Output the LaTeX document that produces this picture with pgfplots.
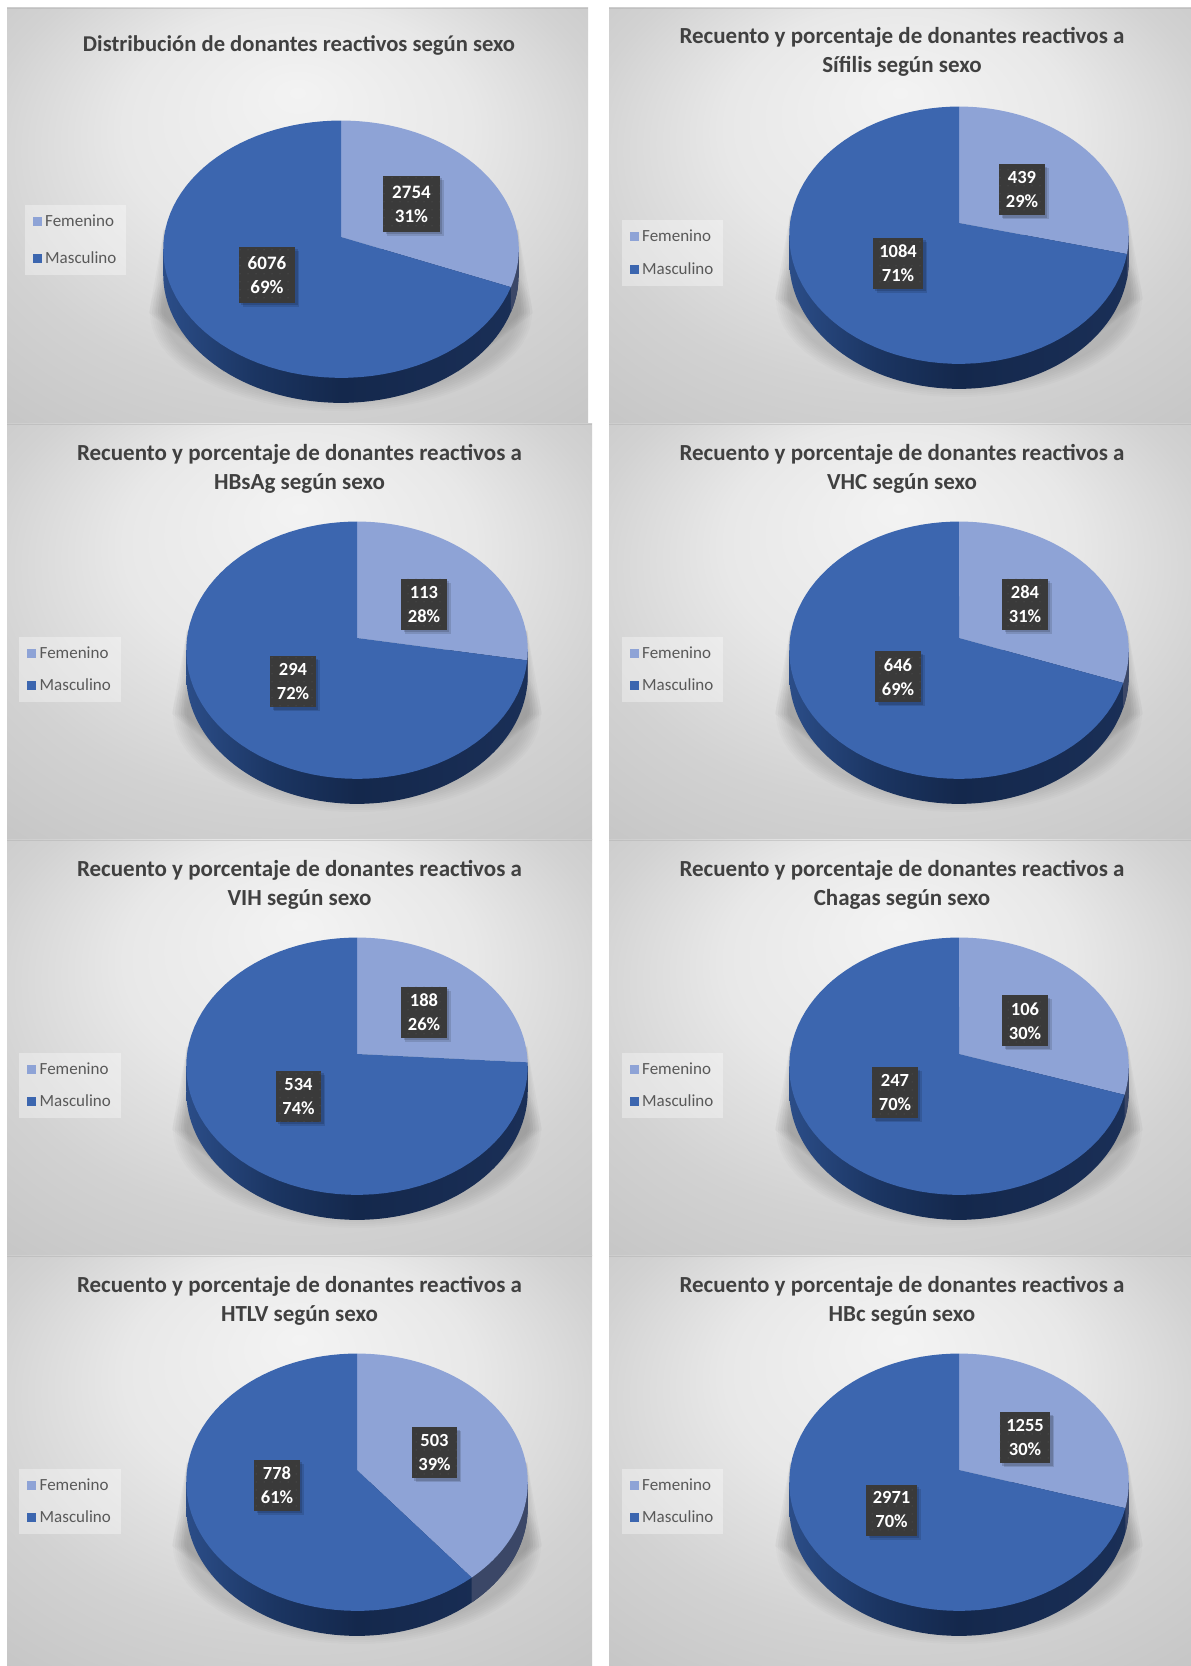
\documentclass[border=0pt]{standalone}
\usepackage{fontspec}
\setmainfont{Carlito}
\usepackage{pgfplots}
\usepackage{pgfplotstable}
\pgfplotsset{compat=1.18}
\usetikzlibrary{shadows,patterns.meta}

\definecolor{fem}{HTML}{8EA3D6}
\definecolor{masc}{HTML}{3C66AF}
\definecolor{femwall}{HTML}{3B4767}
\definecolor{titletxt}{HTML}{404040}
\definecolor{legtxt}{HTML}{595959}
\definecolor{lblbox}{HTML}{3A3A3A}
\definecolor{lbldot}{HTML}{5E5E5E}

\definecolor{wallA}{HTML}{2B4D88}
\definecolor{wallB}{HTML}{1B3562}
\definecolor{wallC}{HTML}{14284C}
\definecolor{wallD}{HTML}{1A2F57}
\pgfdeclarehorizontalshading{wallshade}{100bp}{%
  color(0bp)=(wallA); color(25bp)=(wallA); color(38bp)=(wallB);
  color(50bp)=(wallC); color(75bp)=(wallD); color(100bp)=(wallD)}

\definecolor{bgA}{HTML}{F3F3F3}
\definecolor{bgB}{HTML}{E8E8E8}
\definecolor{bgC}{HTML}{D2D2D2}
\definecolor{bgD}{HTML}{C4C4C4}
\definecolor{bgE}{HTML}{BEBEBE}
\pgfdeclareradialshading{panelbg}{\pgfpoint{0bp}{15bp}}{%
  color(0bp)=(bgA); color(15bp)=(bgB); color(27.5bp)=(bgC);
  color(40bp)=(bgD); color(50bp)=(bgE)}

% Counts of reactive donors by sex, one table per marker
\pgfplotstableread{
sexo valor
Femenino 2754
Masculino 6076
}\tblTotal
\pgfplotstableread{
sexo valor
Femenino 439
Masculino 1084
}\tblSifilis
\pgfplotstableread{
sexo valor
Femenino 113
Masculino 294
}\tblHBsAg
\pgfplotstableread{
sexo valor
Femenino 284
Masculino 646
}\tblVHC
\pgfplotstableread{
sexo valor
Femenino 188
Masculino 534
}\tblVIH
\pgfplotstableread{
sexo valor
Femenino 106
Masculino 247
}\tblChagas
\pgfplotstableread{
sexo valor
Femenino 503
Masculino 778
}\tblHTLV
\pgfplotstableread{
sexo valor
Femenino 1255
Masculino 2971
}\tblHBc

\def\PageH{1666}
\def\Kp{0.095}

\pgfkeys{/panel/.is family,/panel/.cd,
  box/.code args={#1,#2,#3,#4}{\def\Xa{#1}\def\Ya{#2}\def\Xb{#3}\def\Yb{#4}},
  pie/.code args={#1,#2,#3}{\def\Cx{#1}\def\Ay{#2}\def\Rr{#3}},
  data/.store in=\Tbl,
  title/.store in=\Ttl,
  titlepos/.code args={#1,#2}{\def\Tx{#1}\def\Ty{#2}},
  legend/.code args={#1,#2,#3}{\def\Lx{#1}\def\Ly{#2}\def\Lsep{#3}},
  lblF/.code args={#1,#2}{\def\Fx{#1}\def\Fy{#2}},
  lblM/.code args={#1,#2}{\def\Mx{#1}\def\My{#2}},
  lblsize/.store in=\Lsz,
  lblpad/.store in=\Lpad,
  lblh/.store in=\Lh,
  tsize/.store in=\Tsz,
  lblsize=18.5, lblpad=6.5, lblh=51, tsize=23,
}

% Cell of the table named by \Tbl
\def\cellaux#1#2#3{\pgfplotstablegetelem{#2}{#3}\of#1}
\newcommand{\cell}[2]{\expandafter\cellaux\Tbl{#1}{#2}}

% Curve of the pie rim: a circle seen in perspective, t clockwise from the top
\newcommand{\rimX}[1]{\Cx+\Rr*sin(#1)/(1+\Kp*cos(#1))}
\newcommand{\rimY}[1]{\Ay-127.5*cos(#1)/(1+\Kp*cos(#1))}

\newcommand{\piepanel}[1]{%
\begingroup
\pgfkeys{/panel/.cd,#1}%
\cell{0}{valor}\let\vF\pgfplotsretval
\cell{1}{valor}\let\vM\pgfplotsretval
\cell{0}{sexo}\let\nF\pgfplotsretval
\cell{1}{sexo}\let\nM\pgfplotsretval
\pgfmathsetmacro\Ang{360*(\vF/(\vF+\vM))}%
\pgfmathtruncatemacro\pF{round(100*(\vF/(\vF+\vM)))}%
\pgfmathtruncatemacro\pM{round(100*(\vM/(\vF+\vM)))}%
\pgfmathsetmacro\Wd{\Xb-\Xa}%
\pgfmathsetmacro\Ht{\Yb-\Ya}%
\pgfmathsetmacro\AtY{\PageH-\Yb}%
\pgfmathsetmacro\Tang{acos(-\Kp)}%
\pgfmathsetmacro\TangL{360-\Tang}%
% panel background and the soft shadow under the pie
\shade[shading=panelbg] (\Xa,\PageH-\Ya) rectangle (\Xb,\PageH-\Yb);
\fill[black!30,opacity=.5] (\Xa,\PageH-\Ya) rectangle (\Xb,\PageH-\Ya-1.5);
\foreach \e in {0,2,...,14}{
  \fill[black,opacity=.016] (\Cx,\PageH-\Ay-76) ellipse [x radius=\Rr+\e, y radius=84+\e];
}
\foreach \w in {3,6,...,15}{
  \fill[black,opacity=.022] (\Cx-\Rr,\PageH-\Ay+8) -- (\Cx-\Rr-\w,\PageH-\Ay-76)
    -- (\Cx-\Rr+60,\PageH-\Ay-135) -- cycle;
  \fill[black,opacity=.022] (\Cx+\Rr,\PageH-\Ay+8) -- (\Cx+\Rr+\w,\PageH-\Ay-76)
    -- (\Cx+\Rr-60,\PageH-\Ay-135) -- cycle;
}
\begin{axis}[
  at={(\Xa pt,\AtY pt)}, anchor=south west,
  scale only axis, width=\Wd pt, height=\Ht pt,
  xmin=\Xa, xmax=\Xb, ymin=\Ya, ymax=\Yb, y dir=reverse,
  hide axis, clip=false,
  samples=73,
  legend style={at={(axis cs:\Lx,\Ly)}, anchor=north west, draw=none,
    fill=white, fill opacity=.35, text opacity=1, text=legtxt,
    font=\fontsize{17}{21}\selectfont,
    inner xsep=8pt, inner ysep=8pt,
    /tikz/row sep=\Lsep pt,
    /tikz/every odd column/.append style={column sep=1.5pt}},
  legend cell align=left,
  legend image code/.code={\fill[##1,fill opacity=1] (3pt,-4.5pt) rectangle (12pt,4.5pt);},
]
% side wall
\addplot[forget plot, draw=none, shade, shading=wallshade, domain=\Tang:\TangL]
  ({\rimX{x}},{\rimY{x}+25})
  -- (axis cs:{\rimX{\TangL}},{\rimY{\TangL}})
  -- (axis cs:{\rimX{\Tang}},{\rimY{\Tang}}) -- cycle;
\addplot[forget plot, draw=none, fill=femwall, domain=\Tang:\Ang, samples=24]
  ({\rimX{x}},{\rimY{x}+25})
  -- (axis cs:{\rimX{\Ang}},{\rimY{\Ang}})
  -- (axis cs:{\rimX{\Tang}},{\rimY{\Tang}}) -- cycle;
% top face: the two wedges
\addplot[fill=fem, draw=none, domain=0:\Ang]
  ({\rimX{x}},{\rimY{x}}) -- (axis cs:\Cx,\Ay) -- cycle;
\addlegendentryexpanded{\nF}
\addplot[fill=masc, draw=none, domain=\Ang:360]
  ({\rimX{x}},{\rimY{x}}) -- (axis cs:\Cx,\Ay) -- cycle;
\addlegendentryexpanded{\nM}
% value and share labels
\node[lblstyle] at (axis cs:\Fx,\Fy) {\vF\\\pF\%};
\node[lblstyle] at (axis cs:\Mx,\My) {\vM\\\pM\%};
% heading
\node[align=center, text=titletxt, font=\bfseries\fontsize{\Tsz}{29}\selectfont]
  at (axis cs:\Tx,\Ty) {\Ttl};
\end{axis}
\endgroup
}

\tikzset{lblstyle/.style={
  fill=lblbox, text=white, align=center, inner xsep=\Lpad pt, inner ysep=0pt,
  minimum height=\Lh pt,
  font=\bfseries\fontsize{\Lsz}{24}\selectfont,
  general shadow={fill=black,fill opacity=.12,shadow xshift=4pt,shadow yshift=-4pt},
  general shadow={fill=black,fill opacity=.15,shadow xshift=2.5pt,shadow yshift=-2.5pt},
  postaction={pattern={Dots[distance=8pt,radius=.5pt]},pattern color=lbldot},
}}

\begin{document}
\begin{tikzpicture}[x=1pt,y=1pt]
\fill[white] (0,0) rectangle (1191,1666);
\useasboundingbox (0,0) rectangle (1191,1666);

\piepanel{box={7,8,588,424}, pie={341,237,177}, data=\tblTotal,
  title={Distribución de donantes reactivos según sexo}, titlepos={299,45}, tsize=22.6,
  legend={24.5,205,19}, lblF={411.5,204}, lblM={267,275},
  lblsize=19, lblpad=9, lblh=56}
\piepanel{box={609,8,1191,424}, pie={959,223,169}, data=\tblSifilis,
  title={Recuento y porcentaje de donantes reactivos a\\Sífilis según sexo}, titlepos={902,52},
  legend={621.5,220,15}, lblF={1022,190}, lblM={898,263.5}}

\piepanel{box={7,424,592,840}, pie={357,638,170}, data=\tblHBsAg,
  title={Recuento y porcentaje de donantes reactivos a\\HBsAg según sexo}, titlepos={299.5,469},
  legend={19,636.5,15}, lblF={424,604.5}, lblM={293,682}}
\piepanel{box={609,424,1191,840}, pie={959,638,169}, data=\tblVHC,
  title={Recuento y porcentaje de donantes reactivos a\\VHC según sexo}, titlepos={902,469},
  legend={621.5,636.5,15}, lblF={1025,604.5}, lblM={898,677}}

\piepanel{box={7,840,592,1256}, pie={357,1054,170}, data=\tblVIH,
  title={Recuento y porcentaje de donantes reactivos a\\VIH según sexo}, titlepos={299.5,885},
  legend={19,1052.5,15}, lblF={424,1012.5}, lblM={298.5,1096.5}}
\piepanel{box={609,840,1191,1256}, pie={959,1054,169}, data=\tblChagas,
  title={Recuento y porcentaje de donantes reactivos a\\Chagas según sexo}, titlepos={902,885},
  legend={621.5,1052.5,15}, lblF={1025,1021}, lblM={895,1093}}

\piepanel{box={7,1256,592,1666}, pie={357,1470,170}, data=\tblHTLV,
  title={Recuento y porcentaje de donantes reactivos a\\HTLV según sexo}, titlepos={299.5,1301},
  legend={19,1468.5,15}, lblF={434.5,1452.5}, lblM={277,1485}}
\piepanel{box={609,1256,1191,1666}, pie={959,1470,169}, data=\tblHBc,
  title={Recuento y porcentaje de donantes reactivos a\\HBc según sexo}, titlepos={902,1301},
  legend={621.5,1468.5,15}, lblF={1025,1437.5}, lblM={891.5,1510}}
\end{tikzpicture}
\end{document}
